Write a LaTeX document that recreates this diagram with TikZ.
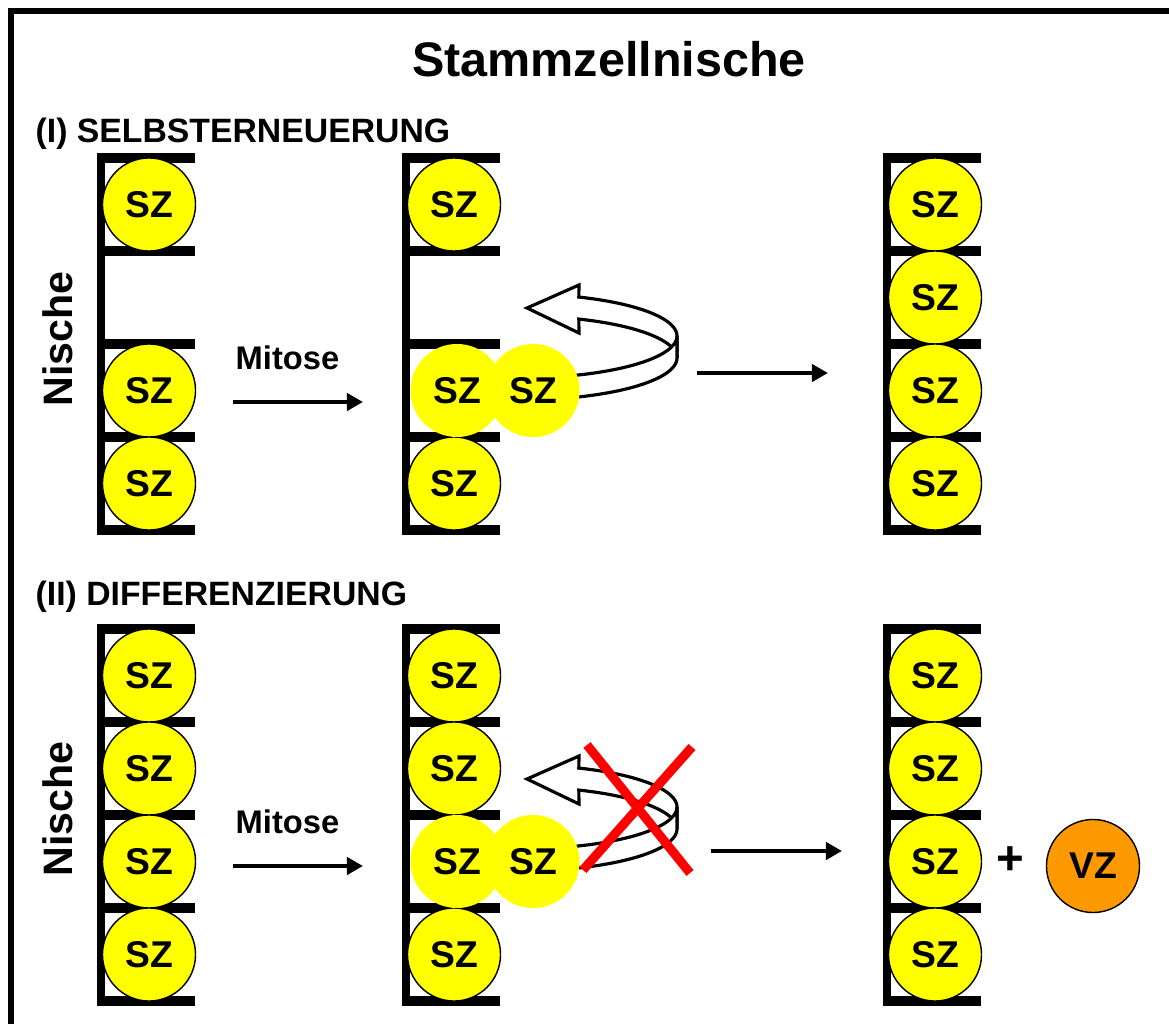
\documentclass[tikz,border=0pt]{standalone}
\usepackage{fontspec}
\setmainfont{Liberation Sans}
\usetikzlibrary{arrows.meta}
\definecolor{szyellow}{RGB}{255,255,0}
\definecolor{vzorange}{RGB}{255,153,0}
\definecolor{xred}{RGB}{255,0,0}
\begin{document}
\begin{tikzpicture}[x=0.01cm,y=-0.01cm,
  cell/.style={circle, draw=black, line width=0.4pt, fill=szyellow, minimum size=0.93cm, inner sep=0pt, font=\bfseries\fontsize{10.6}{12}\selectfont},
  twin/.style={cell, draw=none},
  vzcell/.style={cell, fill=vzorange},
  vbar/.style={line width=2.3pt},
  hbar/.style={line width=2.7pt},
  ribbon/.style={fill=white, draw=black, line width=0.9pt, line join=miter},
  fwd/.style={line width=1.4pt, -{Triangle[length=0.16cm, width=0.17cm]}},
  cross/.style={draw=xred, line width=2.6pt},
  titletext/.style={font=\bfseries\fontsize{13.8}{16}\selectfont, inner sep=0pt},
  headtext/.style={font=\bfseries\fontsize{9.6}{11}\selectfont, inner sep=0pt, anchor=base west},
  mitext/.style={font=\bfseries\fontsize{9.3}{11}\selectfont, inner sep=0pt, anchor=base west},
  nichetext/.style={font=\bfseries\fontsize{11.7}{14}\selectfont, inner sep=0pt, anchor=base, rotate=90},
  plustext/.style={font=\bfseries\fontsize{13.5}{16}\selectfont, inner sep=0pt}
]
\path[use as bounding box, clip] (0,0) rectangle (1169,1024);
\fill[white] (0,0) rectangle (1169,1024);
% frame
\draw[line width=1.6pt] (11,1100) -- (11,11) -- (1250,11);

% title and headings
\node[titletext, anchor=base] (title) at (609,76) {Stammzellnische};
\node[headtext] (h1) at (35,142) {(I) SELBSTERNEUERUNG};
\node[headtext] (h2) at (35,605) {(II) DIFFERENZIERUNG};
\node[nichetext] (n1) at (72,339) {Nische};
\node[nichetext] (n2) at (72,809) {Nische};

% niche bars
\foreach \T in {158,629} {
  \foreach \V in {101,406,887} {
    \draw[vbar] (\V,{\T-5}) -- (\V,{\T+377});
    \foreach \k in {0,...,4}
      \draw[hbar] ({\V-4},{\T+93*\k}) -- ({\V+94},{\T+93*\k});
  }
}

% panel I cells
\node[cell] (a11) at (149,204.5) {SZ};
\node[cell] (a13) at (149,390.5) {SZ};
\node[cell] (a14) at (149,483.5) {SZ};
\node[cell] (a21) at (454,204.5) {SZ};
\node[cell] (a24) at (454,483.5) {SZ};
\node[cell] (a31) at (935,204.5) {SZ};
\node[cell] (a32) at (935,297.5) {SZ};
\node[cell] (a33) at (935,390.5) {SZ};
\node[cell] (a34) at (935,483.5) {SZ};

% panel II cells
\node[cell] (b11) at (149,675.5) {SZ};
\node[cell] (b12) at (149,768.5) {SZ};
\node[cell] (b13) at (149,861.5) {SZ};
\node[cell] (b14) at (149,954.5) {SZ};
\node[cell] (b21) at (454,675.5) {SZ};
\node[cell] (b22) at (454,768.5) {SZ};
\node[cell] (b24) at (454,954.5) {SZ};
\node[cell] (b31) at (935,675.5) {SZ};
\node[cell] (b32) at (935,768.5) {SZ};
\node[cell] (b33) at (935,861.5) {SZ};
\node[cell] (b34) at (935,954.5) {SZ};

% rotating ribbons
\foreach \dy in {0,471} {
  \draw[ribbon] plot[domain=-68:0, samples=30] ({520+157*cos(\x)},{336+\dy+42*sin(\x)})
     -- plot[domain=0:-68, samples=30] ({520+157*cos(\x)},{358+\dy+42*sin(\x)})
     -- (579,{333+\dy}) -- (527,{308+\dy}) -- (579,{285+\dy}) -- cycle;
  \draw[ribbon] plot[domain=78:0, samples=30] ({520+157*cos(\x)},{336+\dy+42*sin(\x)})
     -- plot[domain=0:78, samples=30] ({520+157*cos(\x)},{358+\dy+42*sin(\x)}) -- cycle;
}

% dividing cells
\node[twin] (a2l) at (457,390.5) {SZ};
\node[twin] (a2r) at (533,390.5) {SZ};
\node[twin] (b2l) at (457,861.5) {SZ};
\node[twin] (b2r) at (533,861.5) {SZ};

% red cross
\coordinate (x1a) at (587,745);
\coordinate (x1b) at (690,873);
\coordinate (x2a) at (692,747);
\coordinate (x2b) at (583,870);
\draw[cross] (x1a) -- (x1b);
\draw[cross] (x2a) -- (x2b);

% plus and progenitor
\node[plustext] (plus) at (1010,861) {+};
\node[vzcell] (vz) at (1093,866) {VZ};

% arrows
\node[mitext] (m1) at (235,369) {Mitose};
\node[mitext] (m2) at (235,833) {Mitose};
\coordinate (p1s) at (233,402);
\coordinate (p1e) at (363,402);
\coordinate (q1s) at (697,373);
\coordinate (q1e) at (828,373);
\coordinate (p2s) at (233,866);
\coordinate (p2e) at (363,866);
\coordinate (q2s) at (711,851);
\coordinate (q2e) at (842,851);
\draw[fwd] (p1s) -- (p1e);
\draw[fwd] (q1s) -- (q1e);
\draw[fwd] (p2s) -- (p2e);
\draw[fwd] (q2s) -- (q2e);
\end{tikzpicture}
\end{document}
